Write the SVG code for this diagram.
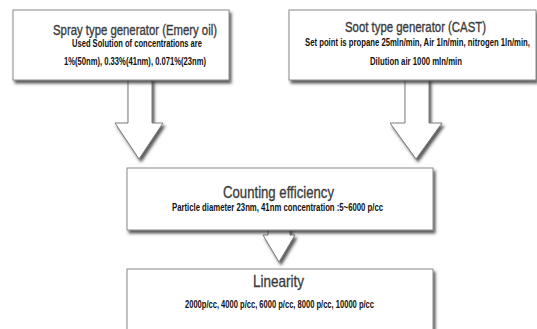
<svg xmlns="http://www.w3.org/2000/svg" width="537" height="329" viewBox="0 0 537 329">
<defs>
<filter id="sh" x="-10%" y="-10%" width="125%" height="130%">
<feDropShadow dx="2" dy="3" stdDeviation="1.5" flood-color="#333" flood-opacity="0.8"/>
</filter>
<style>
.box{fill:#fff;stroke:#8a8a8a;stroke-width:1;filter:url(#sh)}
.arr{fill:#fff;stroke:#7a7a7a;stroke-width:1;filter:url(#sh)}
.t{font-family:"Liberation Sans Narrow","Liberation Sans",Arial,sans-serif;fill:#3c3c3c;stroke:#3c3c3c;stroke-width:0.35}
.s{font-family:"Liberation Sans Narrow","Liberation Sans",Arial,sans-serif;font-weight:bold;fill:#111;font-size:10px}
</style>
</defs>
<rect width="537" height="329" fill="#fff"/>
<g id="connectors">
<path class="arr" d="M128,78 L152,78 L152,123 L163,123 L139,159 L115,123 L128,123 Z"/>
<path class="arr" d="M405,78 L429,78 L429,123 L442,123 L416,159 L390,123 L405,123 Z"/>
<path class="arr" d="M268,228 L290,228 L290,235 L295,235 L279,262 L263,235 L268,235 Z"/>
</g>
<g id="spray">
<rect class="box" x="13" y="10" width="216" height="70"/>
<text class="t" x="53" y="35" font-size="14" textLength="164" lengthAdjust="spacingAndGlyphs">Spray type generator (Emery oil)</text>
<text class="s" x="72" y="47" textLength="130" lengthAdjust="spacingAndGlyphs">Used Solution of concentrations are</text>
<text class="s" x="64" y="65" textLength="142" lengthAdjust="spacingAndGlyphs">1%(50nm), 0.33%(41nm), 0.071%(23nm)</text>
</g>
<g id="soot">
<rect class="box" x="289" y="10" width="247" height="70"/>
<text class="t" x="345" y="32" font-size="14" textLength="141" lengthAdjust="spacingAndGlyphs">Soot type generator  (CAST)</text>
<text class="s" transform="translate(305,46) scale(0.75,1)" x="0" y="0" textLength="300" lengthAdjust="spacingAndGlyphs">Set point is propane 25mln/min, Air 1ln/min, nitrogen 1ln/min,</text>
<text class="s" x="370" y="65" textLength="92" lengthAdjust="spacingAndGlyphs">Dilution air 1000 mln/min</text>
</g>
<g id="counting">
<rect class="box" x="127" y="168" width="306" height="62"/>
<text class="t" x="223" y="198" font-size="17" textLength="111" lengthAdjust="spacingAndGlyphs">Counting efficiency</text>
<text class="s" x="172" y="211" textLength="211" lengthAdjust="spacingAndGlyphs">Particle diameter 23nm, 41nm  concentration :5~6000 p/cc</text>
</g>
<g id="linearity">
<rect class="box" x="127" y="269" width="306" height="75"/>
<text class="t" x="253" y="287" font-size="17" textLength="51" lengthAdjust="spacingAndGlyphs">Linearity</text>
<text class="s" x="185" y="308" textLength="189" lengthAdjust="spacingAndGlyphs">2000p/cc, 4000 p/cc, 6000 p/cc, 8000 p/cc, 10000 p/cc</text>
</g>
</svg>
